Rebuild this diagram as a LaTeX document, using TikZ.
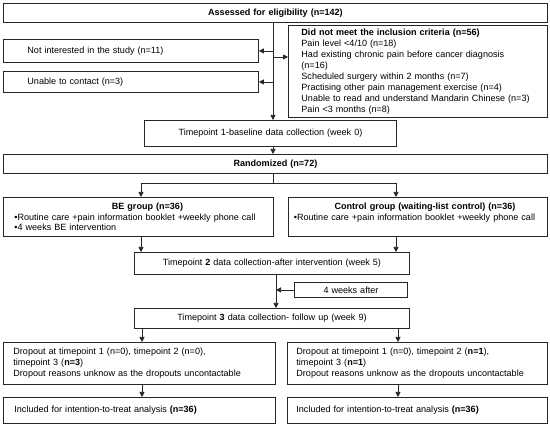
\documentclass[tikz,border=0pt]{standalone}
\usepackage{fontspec}
\setmainfont{Liberation Sans}
\usetikzlibrary{arrows.meta}
\begin{document}
\begin{tikzpicture}[x=1pt,y=-1pt,
  box/.style={draw=black!85, line width=0.9pt, anchor=north west, inner ysep=0pt,
    font=\fontsize{9.05}{10.5}\selectfont},
  lbox/.style={box, align=left},
  cbox/.style={box, align=center, inner xsep=2pt},
  arr/.style={draw=black!85, line width=0.75pt, -{Triangle[length=5pt,width=5pt]}},
  ln/.style={draw=black!85, line width=0.75pt}]
\useasboundingbox (0,0) rectangle (550,427);
\fill[white] (0,0) rectangle (550,427);

% boxes
\node[cbox, minimum width=544pt, minimum height=19pt, text width=540pt] (assess) at (3,3)
  {\bfseries Assessed for eligibility (n=142)};
\node[lbox, minimum width=255pt, minimum height=23pt, inner xsep=24pt, text width=207pt] (notint) at (3,39)
  {Not interested in the study (n=11)};
\node[lbox, minimum width=255pt, minimum height=21pt, inner xsep=24pt, text width=207pt] (unable) at (3,71)
  {Unable to contact (n=3)};
\node[lbox, minimum width=259pt, minimum height=92pt, inner xsep=13pt, text width=233pt,
  font=\fontsize{9.05}{11}\selectfont] (notmeet) at (288,25)
  {\textbf{Did not meet the inclusion criteria (n=56)}\\
   Pain level <4/10 (n=18)\\
   Had existing chronic pain before cancer diagnosis\\
   (n=16)\\
   Scheduled surgery within 2 months (n=7)\\
   Practising other pain management exercise (n=4)\\
   Unable to read and understand Mandarin Chinese (n=3)\\
   Pain <3 months (n=8)};
\node[cbox, minimum width=252pt, minimum height=26pt, text width=248pt] (tp1) at (144,120)
  {Timepoint 1-baseline data collection (week 0)};
\node[cbox, minimum width=544pt, minimum height=19pt, text width=540pt] (rand) at (3,154)
  {\bfseries Randomized (n=72)};
\node[lbox, minimum width=270pt, minimum height=39pt, inner xsep=11pt, text width=248pt] (be) at (3,197)
  {\makebox[266pt][c]{\bfseries BE group (n=36)}\\
   •Routine care +pain information booklet +weekly phone call\\
   •4 weeks BE intervention};
\node[lbox, minimum width=259pt, minimum height=39pt, inner xsep=5.5pt, text width=248pt] (ctrl) at (288,197)
  {\makebox[248pt][l]{\makebox[262pt][c]{\bfseries Control group (waiting-list control) (n=36)}}\\
   •Routine care +pain information booklet +weekly phone call\\
   \mbox{}};
\node[cbox, minimum width=275pt, minimum height=22pt, text width=271pt] (tp2) at (134,252)
  {Timepoint \textbf{2} data collection-after intervention (week 5)};
\node[cbox, minimum width=113pt, minimum height=15pt, text width=109pt] (wk4) at (294,282)
  {4 weeks after};
\node[cbox, minimum width=275pt, minimum height=20pt, text width=271pt] (tp3) at (134,308)
  {Timepoint \textbf{3} data collection- follow up (week 9)};
\node[lbox, minimum width=272pt, minimum height=42pt, inner xsep=10pt, text width=252pt,
  font=\fontsize{9.05}{11}\selectfont] (dropL) at (3,342)
  {Dropout at timepoint 1 (n=0), timepoint 2 (n=0),\\
   timepoint 3 (\textbf{n=3})\\
   Dropout reasons unknow as the dropouts uncontactable};
\node[lbox, minimum width=260pt, minimum height=42pt, inner xsep=9pt, text width=242pt,
  font=\fontsize{9.05}{11}\selectfont] (dropR) at (287,342)
  {Dropout at timepoint 1 (n=0), timepoint 2 (\textbf{n=1}),\\
   timepoint 3 (\textbf{n=1})\\
   Dropout reasons unknow as the dropouts uncontactable};
\node[lbox, minimum width=272pt, minimum height=26pt, inner xsep=11pt, text width=250pt] (incL) at (3,397)
  {Included for intention-to-treat analysis \textbf{(n=36)}};
\node[lbox, minimum width=260pt, minimum height=26pt, inner xsep=9pt, text width=242pt] (incR) at (287,397)
  {Included for intention-to-treat analysis \textbf{(n=36)}};

% connectors
\coordinate (spine) at (273,0);
\coordinate (split) at (273,183);
\coordinate (lx) at (141,0);
\coordinate (rx) at (396,0);
\coordinate (sp2) at (276,0);
\coordinate (lx3) at (142,0);
\coordinate (rx3) at (398,0);

\draw[arr] (assess.south -| spine) -- (tp1.north -| spine);
\draw[arr] (notint.east -| spine) -- (notint.east);
\draw[arr] (unable.east -| spine) -- (unable.east);
\draw[arr] (spine |- 0,57) -- (notmeet.west |- 0,57);
\draw[arr] (tp1.south -| spine) -- (rand.north -| spine);
\draw[ln] (rand.south -| spine) -- (split);
\draw[ln] (split -| lx) -- (split -| rx);
\draw[arr] (split -| lx) -- (be.north -| lx);
\draw[arr] (split -| rx) -- (ctrl.north -| rx);
\draw[arr] (be.south -| lx) -- (tp2.north -| lx);
\draw[arr] (ctrl.south -| rx) -- (tp2.north -| rx);
\draw[arr] (tp2.south -| sp2) -- (tp3.north -| sp2);
\draw[arr] (wk4.west) -- (wk4.west -| sp2);
\draw[arr] (tp3.south -| lx3) -- (dropL.north -| lx3);
\draw[arr] (tp3.south -| rx3) -- (dropR.north -| rx3);
\draw[arr] (dropL.south -| lx3) -- (incL.north -| lx3);
\draw[arr] (dropR.south -| rx3) -- (incR.north -| rx3);
\end{tikzpicture}
\end{document}
